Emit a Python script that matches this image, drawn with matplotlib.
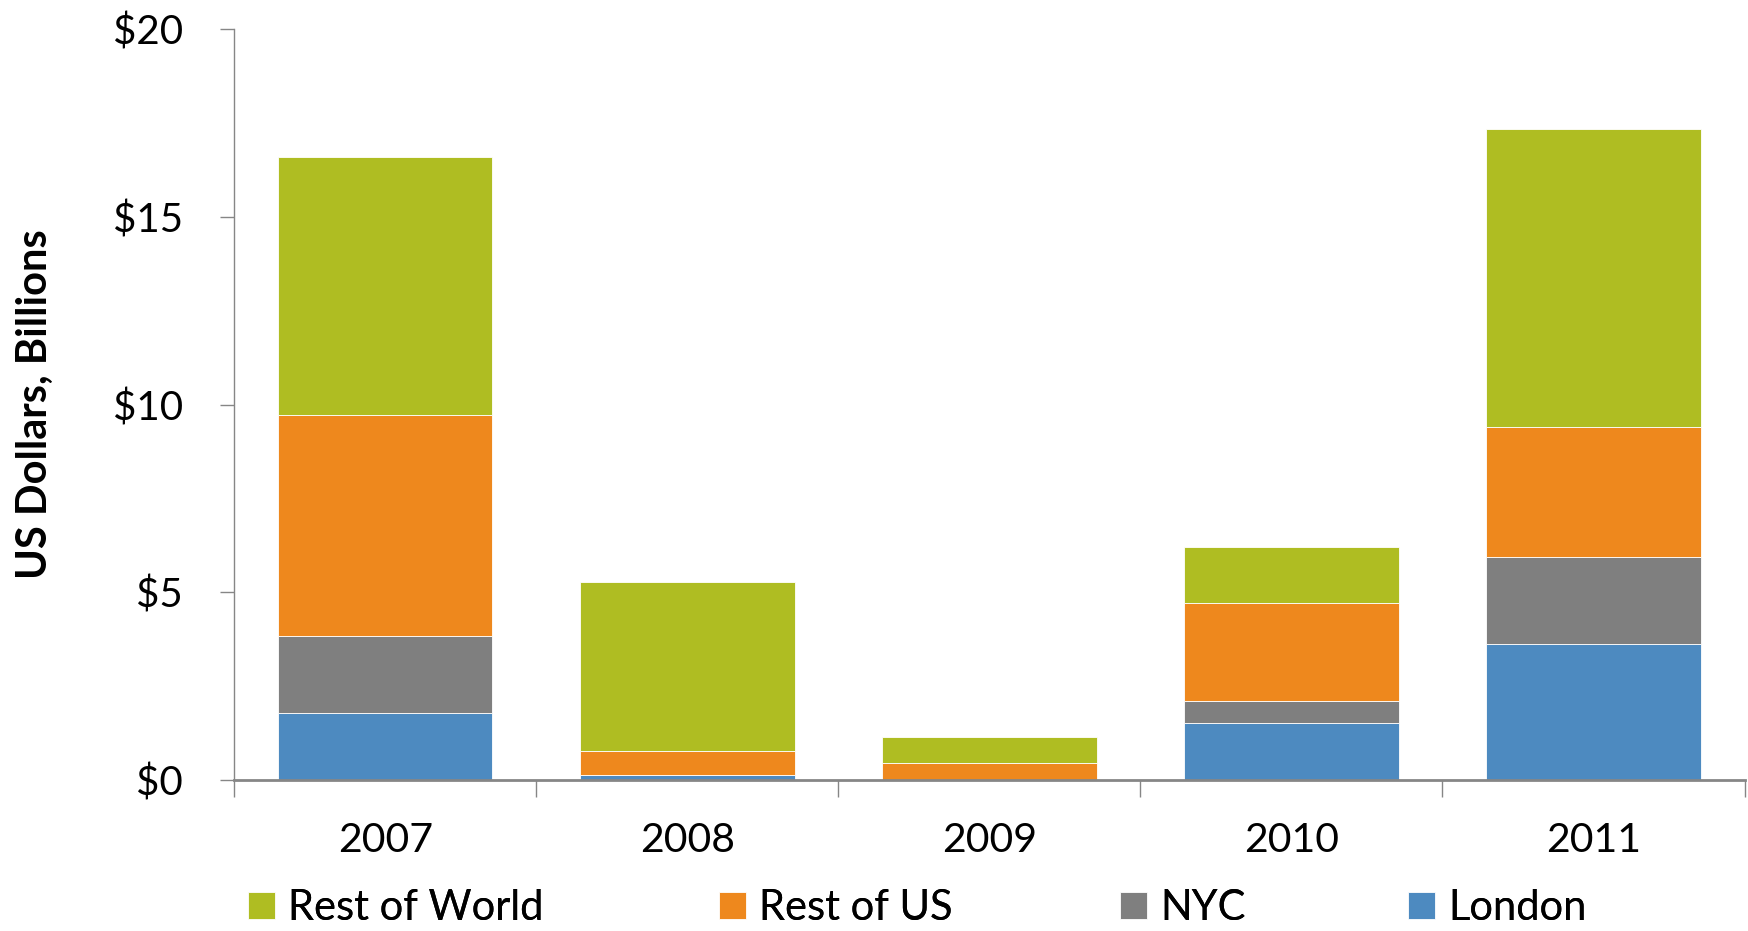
import matplotlib.pyplot as plt
import numpy as np

plt.rcParams['font.family'] = ['Lato', 'DejaVu Sans']

years = ["2007", "2008", "2009", "2010", "2011"]
london = [1.78, 0.13, 0.0, 1.51, 3.62]
nyc = [2.05, 0.0, 0.0, 0.60, 2.31]
rest_of_us = [5.90, 0.65, 0.47, 2.61, 3.48]
rest_of_world = [6.86, 4.50, 0.67, 1.48, 7.92]

series = [
    ("London", london, "#4D8AC0"),
    ("NYC", nyc, "#7F7F7F"),
    ("Rest of US", rest_of_us, "#EE881D"),
    ("Rest of World", rest_of_world, "#AFBD22"),
]

fig = plt.figure(figsize=(17.48, 9.31), dpi=100)
ax = fig.add_axes([0.134, 0.162, 0.864, 0.807])

x = np.arange(len(years))
bottom = np.zeros(len(years))
handles = {}
for name, vals, color in series:
    b = ax.bar(x, vals, width=0.71, bottom=bottom, color=color,
               edgecolor="white", linewidth=0.6, label=name)
    handles[name] = b
    bottom += np.array(vals)

ax.set_xlim(-0.5, len(years) - 0.5)
ax.set_ylim(0, 20)
ax.set_yticks([0, 5, 10, 15, 20])
ax.set_yticklabels(["$0", "$5", "$10", "$15", "$20"])

ax.set_xticks(np.arange(-0.5, len(years)), labels=[""] * (len(years) + 1))
ax.set_xticks(x, labels=years, minor=True)
ax.tick_params(axis="x", which="major", length=12, color="#868686", width=1)
ax.tick_params(axis="x", which="minor", length=0, pad=30, labelsize=29.5)
ax.tick_params(axis="y", length=10, color="#868686", width=1, labelsize=29, pad=27)

for s in ["top", "right"]:
    ax.spines[s].set_visible(False)
ax.spines["left"].set_color("#868686")
ax.spines["left"].set_linewidth(1)
ax.spines["bottom"].set_color("#868686")
ax.spines["bottom"].set_linewidth(2)

ax.set_ylabel("US Dollars, Billions", fontsize=30, fontweight="bold", labelpad=42)

# one legend entry per box so each sits where the original has it
order = ["Rest of World", "Rest of US", "NYC", "London"]
legend_x = [0.1416, 0.4114, 0.6408, 0.8055]
for name, lx in zip(order, legend_x):
    leg = fig.legend([handles[name]], [name], loc="center left",
                     bbox_to_anchor=(lx, 0.0245), frameon=False, fontsize=30,
                     borderpad=0, borderaxespad=0,
                     handlelength=0.65, handleheight=0.65, handletextpad=0.31)
    fig.add_artist(leg)

fig.savefig("out.png", dpi=100)
